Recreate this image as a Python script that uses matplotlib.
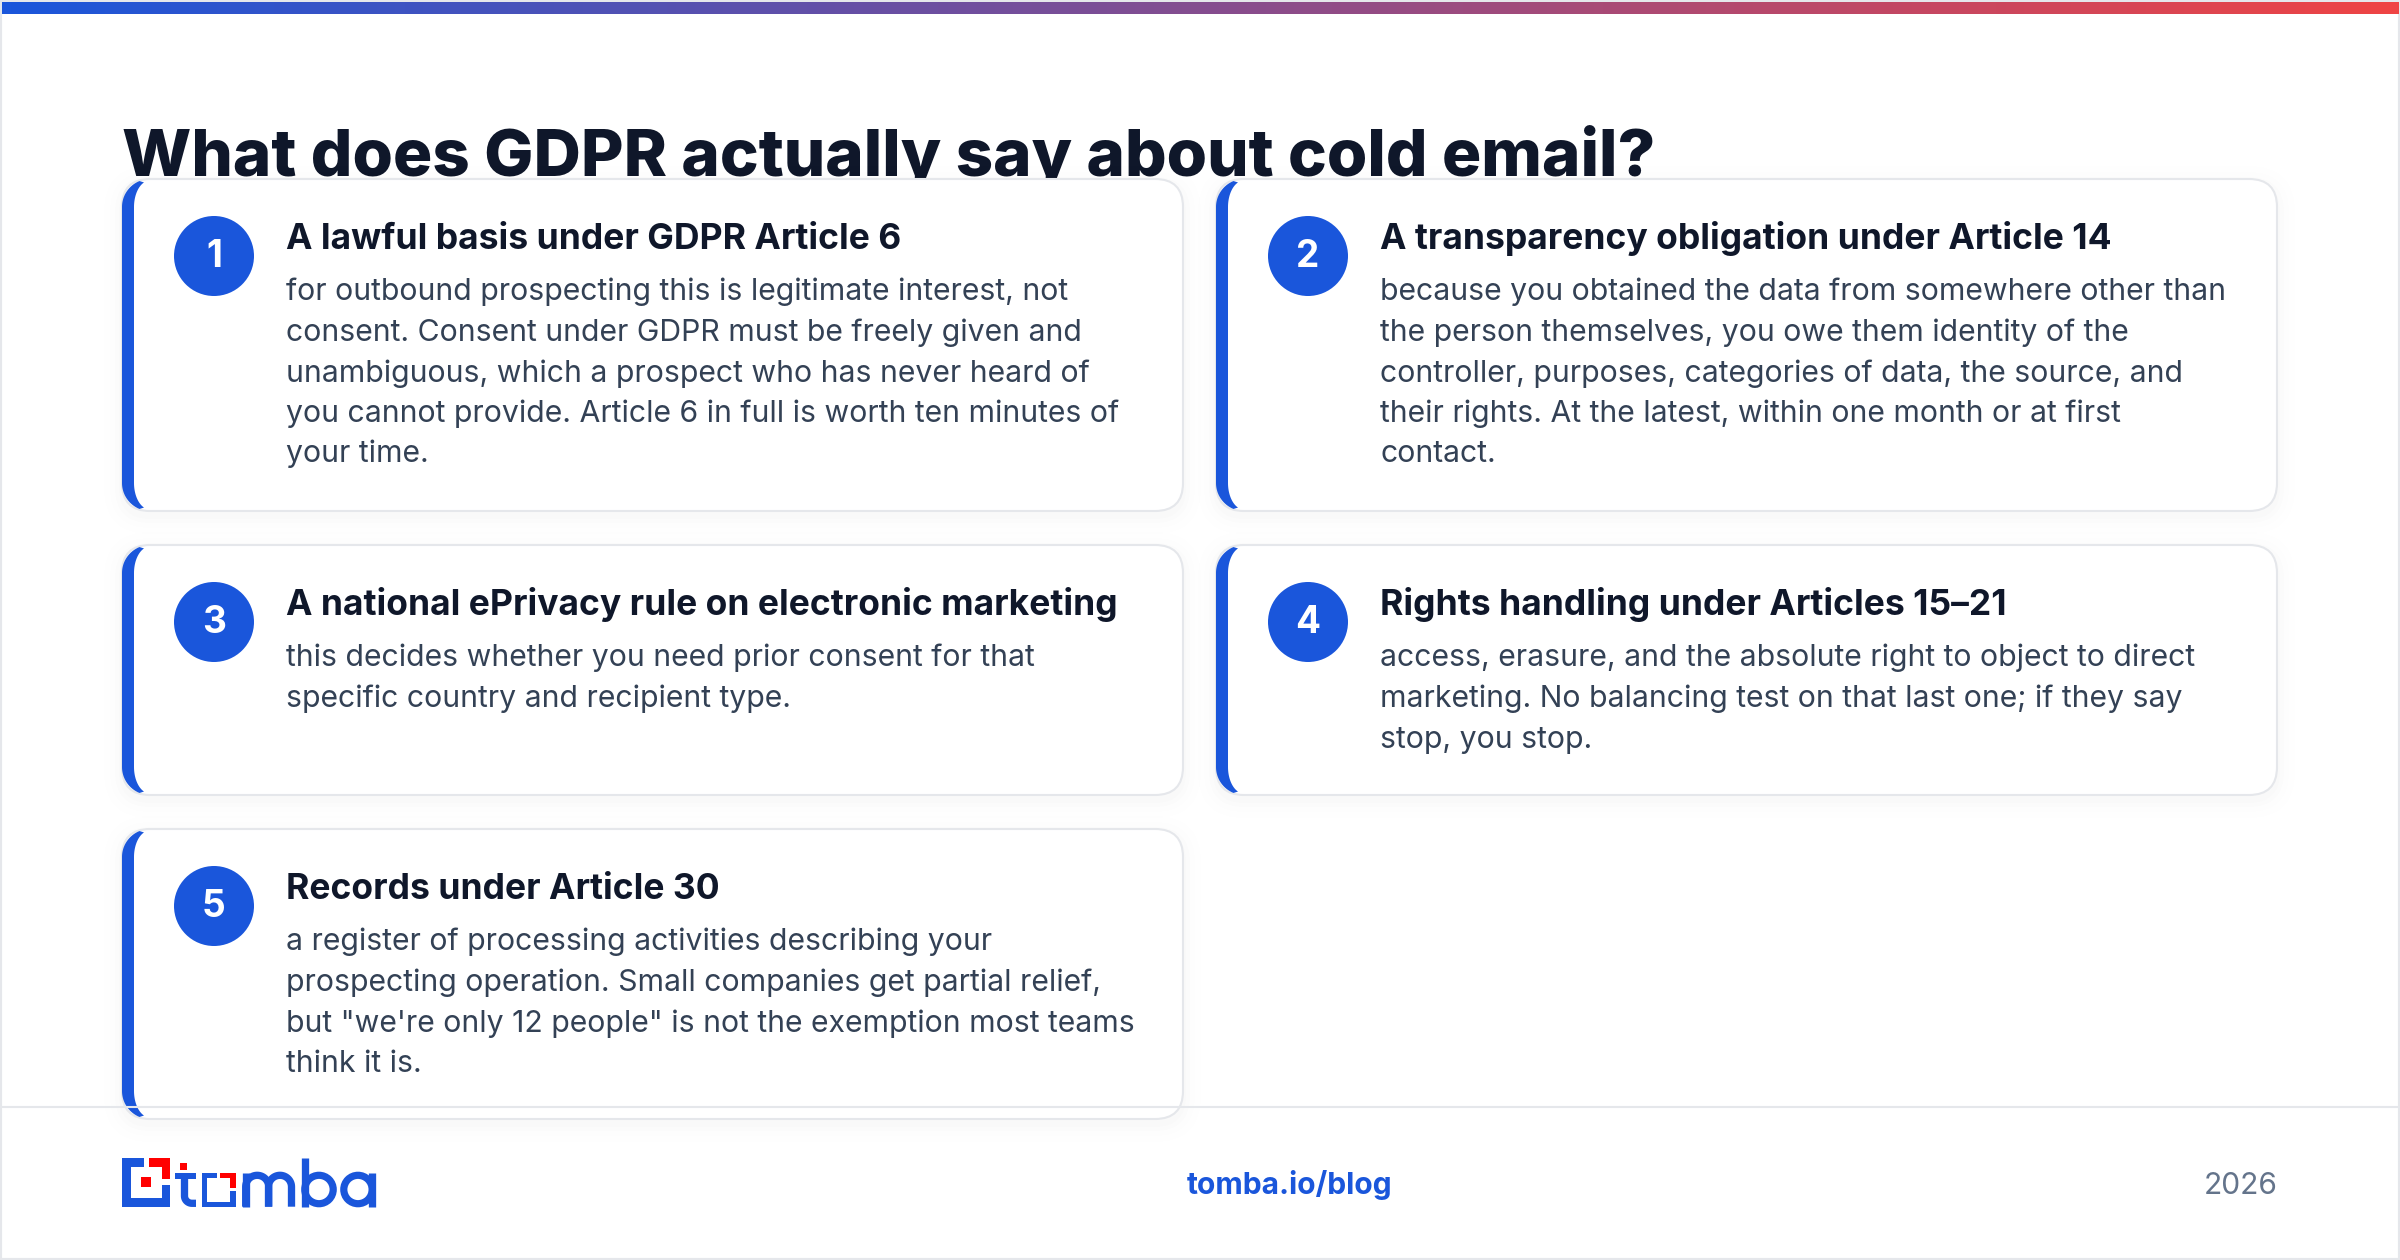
import numpy as np
import matplotlib
matplotlib.use("Agg")
import matplotlib.pyplot as plt
from matplotlib.patches import FancyBboxPatch, Circle, Rectangle, Polygon
from matplotlib.colors import LinearSegmentedColormap

plt.rcParams['font.family'] = ['Inter', 'DejaVu Sans']

BLUE = '#1a56db'
RED = '#ef4444'
INK = '#0f172a'
BODY = '#334155'
EDGE = '#e5e7eb'
LOGO_RED = '#ff0000'

title = "What does GDPR actually say about cold email?"
numbers = ["1", "2", "3", "4", "5"]
headings = [
    "A lawful basis under GDPR Article 6",
    "A transparency obligation under Article 14",
    "A national ePrivacy rule on electronic marketing",
    "Rights handling under Articles 15–21",
    "Records under Article 30",
]
bodies = [
    ["for outbound prospecting this is legitimate interest, not",
     "consent. Consent under GDPR must be freely given and",
     "unambiguous, which a prospect who has never heard of",
     "you cannot provide. Article 6 in full is worth ten minutes of",
     "your time."],
    ["because you obtained the data from somewhere other than",
     "the person themselves, you owe them identity of the",
     "controller, purposes, categories of data, the source, and",
     "their rights. At the latest, within one month or at first",
     "contact."],
    ["this decides whether you need prior consent for that",
     "specific country and recipient type."],
    ["access, erasure, and the absolute right to object to direct",
     "marketing. No balancing test on that last one; if they say",
     "stop, you stop."],
    ["a register of processing activities describing your",
     "prospecting operation. Small companies get partial relief,",
     "but \"we're only 12 people\" is not the exemption most teams",
     "think it is."],
]
card_left = [122, 1216, 122, 1216, 122]
card_top = [179, 179, 545, 545, 829]
card_bottom = [511, 511, 795, 795, 1119]
CARD_W = 1061
RADIUS = 28
BAR = 12

fig = plt.figure(figsize=(24, 12.6), dpi=100)
ax = fig.add_axes([0, 0, 1, 1])
ax.set_xlim(0, 2400)
ax.set_ylim(1260, 0)
ax.axis('off')


def px(size):
    return size * 72 / 100


def crescent(x, top, bottom):
    # borde izquierdo azul con esquinas como en CSS
    r = RADIUS
    a = np.radians(np.linspace(180, 112, 24))
    outer_top = np.c_[x + r + r * np.cos(a), top + r - r * np.sin(a)]
    inner_top = np.c_[x + BAR + (r - BAR) * (1 + np.cos(a)), top + r - (r - 1.5) * np.sin(a)]
    outer_bot = np.c_[outer_top[:, 0], bottom - (outer_top[:, 1] - top)]
    inner_bot = np.c_[inner_top[:, 0], bottom - (inner_top[:, 1] - top)]
    pts = np.vstack([outer_top, inner_top[::-1], inner_bot, outer_bot[::-1]])
    return Polygon(pts, closed=True, fc=BLUE, ec='none', zorder=4)


def card(i):
    x, top, bottom = card_left[i], card_top[i], card_bottom[i]
    # sombra muy suave
    for grow, alpha in [(18, 0.004), (12, 0.005), (7, 0.006), (3, 0.008)]:
        ax.add_patch(FancyBboxPatch((x - grow, top + 5 - grow), CARD_W + 2 * grow, bottom - top + 2 * grow,
                                    boxstyle=f"round,pad=0,rounding_size={RADIUS + grow}",
                                    fc='black', ec='none', alpha=alpha, zorder=2))
    ax.add_patch(FancyBboxPatch((x, top), CARD_W, bottom - top,
                                boxstyle=f"round,pad=0,rounding_size={RADIUS}",
                                fc='white', ec=EDGE, lw=1.5, zorder=3))
    ax.add_patch(crescent(x, top, bottom))
    ax.add_patch(Circle((x + 92, top + 77), 40, fc=BLUE, ec='none', zorder=5))
    ax.text(x + 92, top + 78, numbers[i], color='white', fontsize=px(37), fontweight='bold',
            ha='center', va='center', zorder=6)
    ax.text(x + 164.5, top + 70, headings[i], color=INK, fontsize=px(35.5), fontweight='bold',
            va='baseline', zorder=6)
    for j, line in enumerate(bodies[i]):
        ax.text(x + 164.5, top + 121.5 + 40.5 * j, line, color=BODY, fontsize=px(30.2),
                va='baseline', zorder=6)


def stroke(xs, ys, width=7.3):
    ax.plot(xs, ys, color=BLUE, lw=px(width), solid_capstyle='butt', solid_joinstyle='round', zorder=6)


def ring(cx, cy=1189.5, outer=17.8, inner=10.6):
    ax.add_patch(Circle((cx, cy), (outer + inner) / 2, fc='none', ec=BLUE, lw=px(outer - inner), zorder=6))


def logo():
    # cuadros del icono y de la letra o
    blue = [(122, 1158, 8.7, 48.7), (122, 1158, 22, 8.7), (122, 1198, 48.3, 8.7), (161.7, 1184.7, 8.6, 22),
            (175.3, 1172.7, 20.7, 6.6),
            (202.3, 1172.7, 5, 34), (202.3, 1172.7, 14.4, 5), (202.3, 1201.7, 33.4, 5), (230, 1191.3, 5.7, 15.4)]
    red = [(148.7, 1158, 21.6, 8.7), (161.7, 1158, 8.6, 21.3), (141.3, 1177.3, 10, 9.7),
           (180.3, 1163.3, 6.7, 6.4), (220.3, 1172.7, 15.4, 5), (230, 1172.7, 5.7, 15.3)]
    for x, y, w, h in blue:
        ax.add_patch(Rectangle((x, y), w, h, fc=BLUE, ec='none', zorder=6))
    for x, y, w, h in red:
        ax.add_patch(Rectangle((x, y), w, h, fc=LOGO_RED, ec='none', zorder=6))

    # t
    a = np.radians(np.linspace(180, 90, 16))
    stroke(np.r_[184.5, 184.5, 192 + 7.5 * np.cos(a), 196], np.r_[1179, 1196, 1196 + 7.3 * np.sin(a), 1203.3])

    # m
    t = np.radians(np.linspace(180, 0, 30))
    for cx in (257.2, 280):
        stroke(np.r_[cx - 11.5, cx + 11.5 * np.cos(t), cx + 11.5],
               np.r_[1206.7, 1186.8 - 11.5 * np.sin(t), 1206.7])
    stroke([245.7, 245.7], [1172.7, 1206.7])

    # b y a
    stroke([305.4, 305.4], [1158, 1206.7])
    ring(319)
    ring(358)
    stroke([372, 372], [1172.7, 1206.7])


# fondo y barra superior
ax.add_patch(Rectangle((0, 0), 2400, 1260, fc='white', ec=EDGE, lw=3, zorder=0))
grad = LinearSegmentedColormap.from_list('top', [BLUE, RED])
ax.imshow(np.linspace(0, 1, 512).reshape(1, -1), cmap=grad, extent=(1.5, 2398.5, 14, 2),
          aspect='auto', zorder=1)
ax.set_xlim(0, 2400)
ax.set_ylim(1260, 0)

ax.text(122, 176, title, color=INK, fontsize=px(65.5), fontweight=800, va='baseline', zorder=1)

for i in range(5):
    card(i)

ax.plot([0, 2400], [1107, 1107], color=EDGE, lw=1.5, zorder=7)
logo()
ax.text(1289.5, 1185.5, "tomba.io/blog", color=BLUE, fontsize=px(30), fontweight='bold',
        ha='center', va='center', zorder=6)
ax.text(2278, 1186, "2026", color='#64748b', fontsize=px(30), ha='right', va='center', zorder=6)

fig.savefig("out.png", dpi=100)
